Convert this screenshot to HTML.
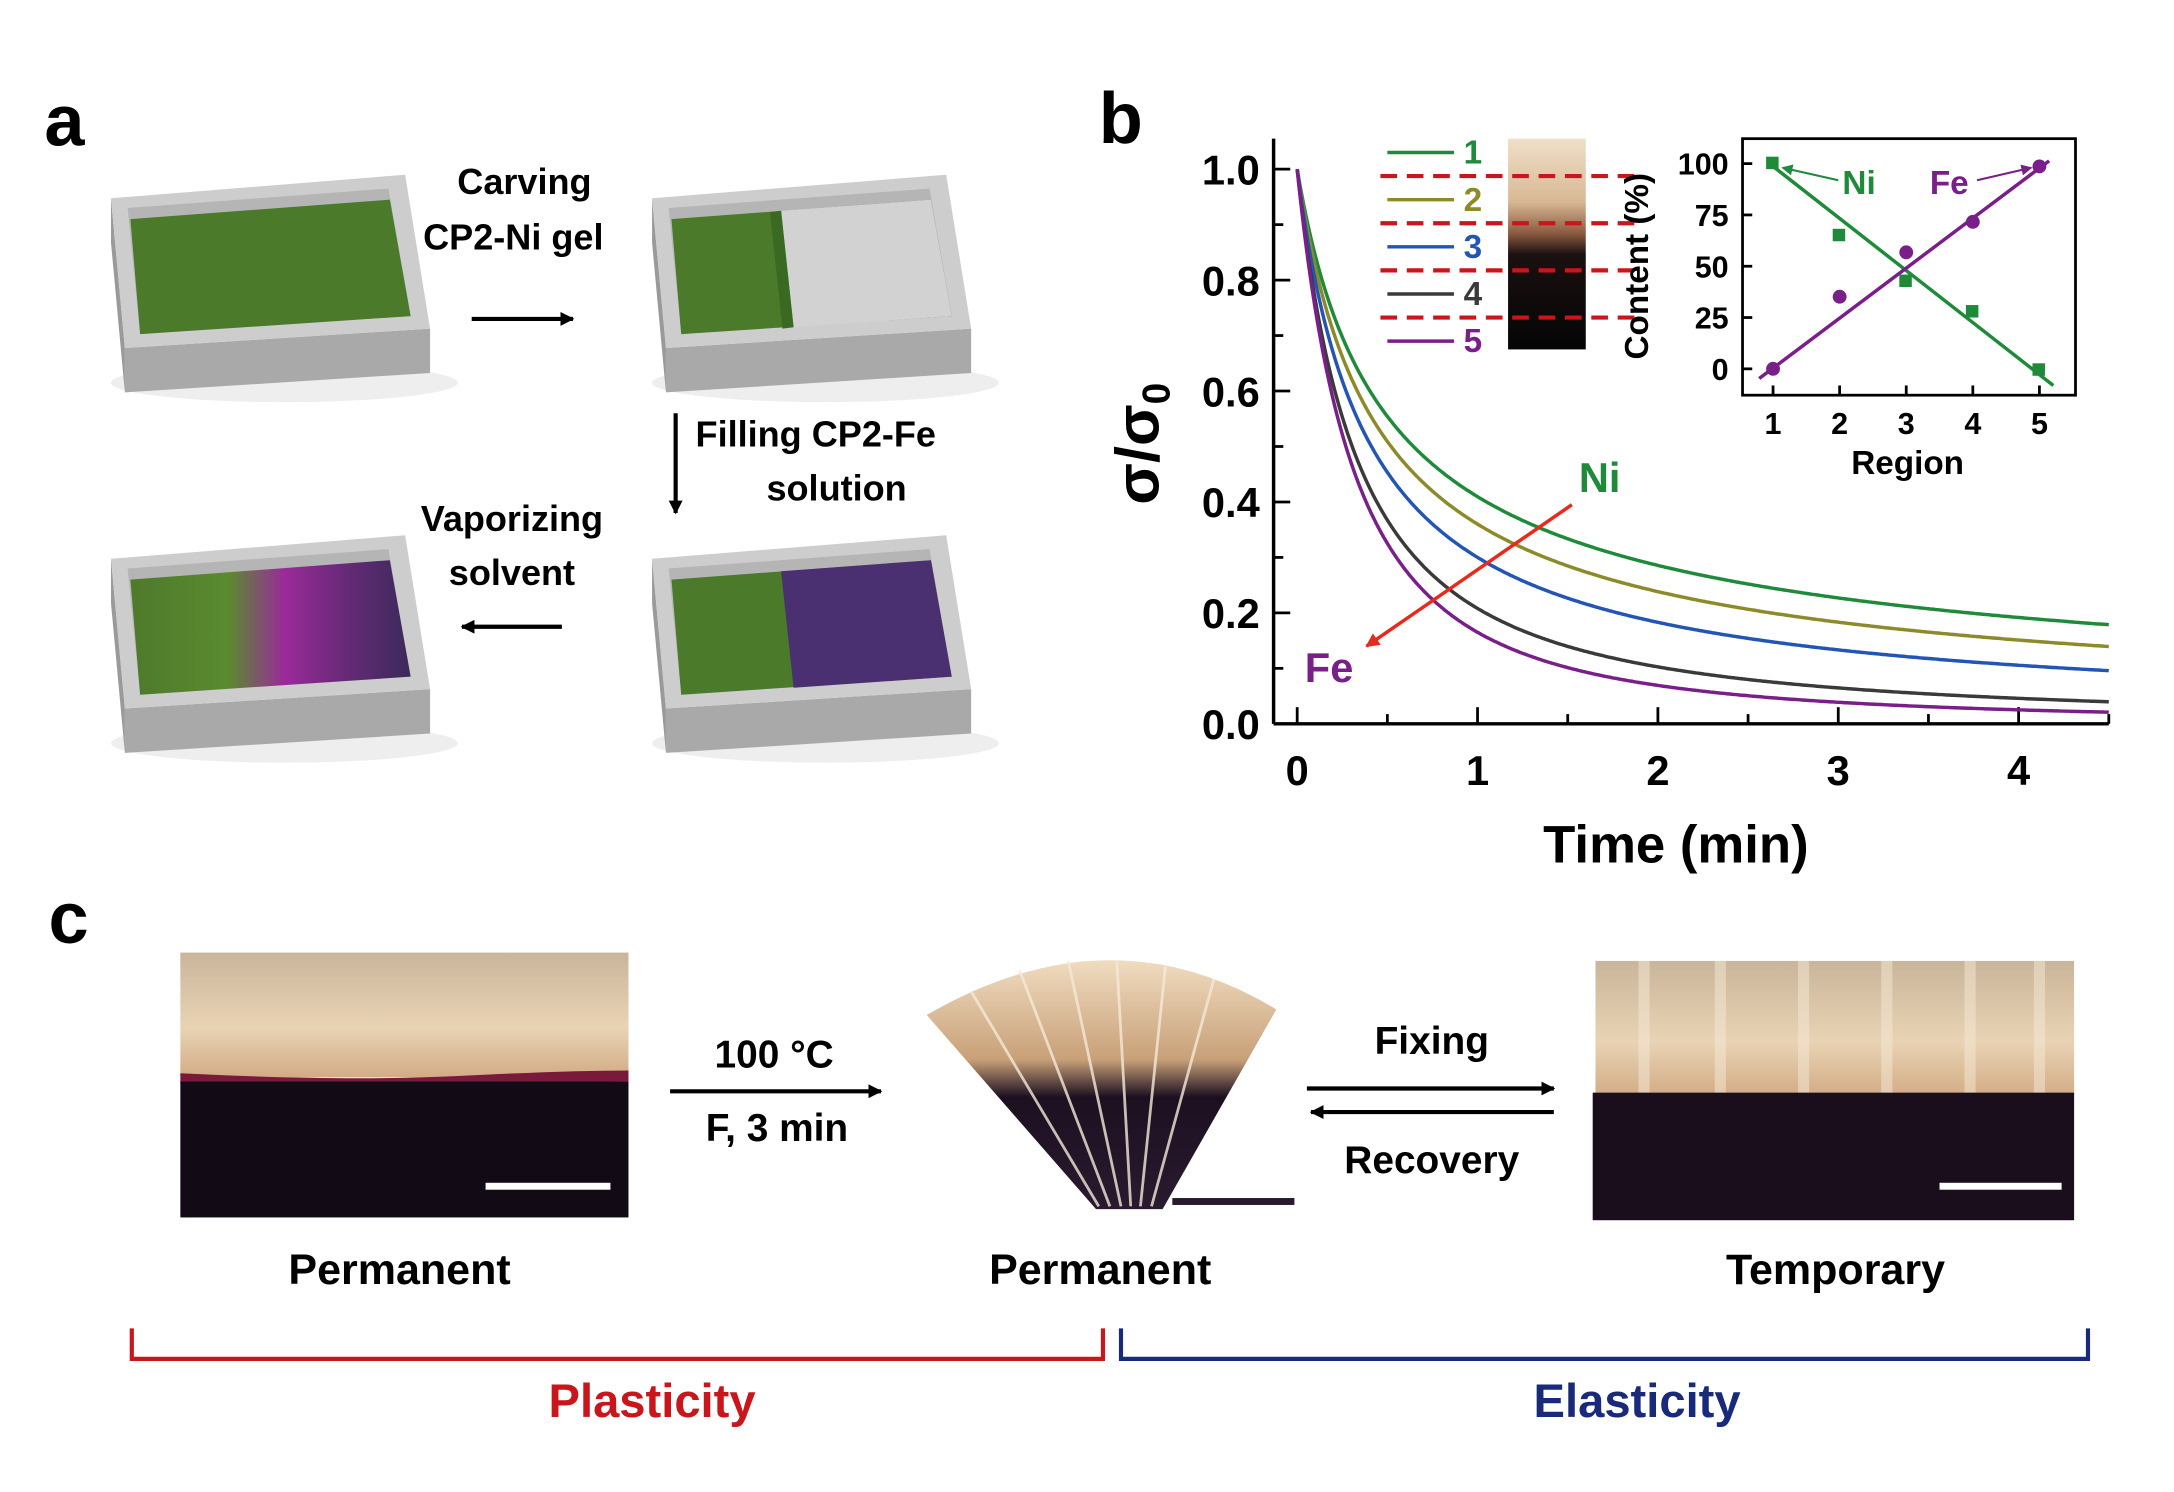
<!DOCTYPE html>
<html><head><meta charset="utf-8"><style>
html,body{margin:0;padding:0;background:#fff;}
svg{display:block;}
text{font-family:"Liberation Sans",Arial,sans-serif;font-weight:bold;}
</style></head><body>
<svg id="s" width="2174" height="1492" viewBox="0 0 1567 1076" preserveAspectRatio="none" xmlns="http://www.w3.org/2000/svg">
<defs>
<linearGradient id="gp" x1="0" x2="1" y1="0" y2="0">
<stop offset="0" stop-color="#4e7a2a"/><stop offset="0.35" stop-color="#5a8a30"/><stop offset="0.55" stop-color="#9a2a9a"/><stop offset="0.75" stop-color="#6a2a7a"/><stop offset="1" stop-color="#3a2a5a"/></linearGradient>
<linearGradient id="strip" x1="0" x2="0" y1="0" y2="1">
<stop offset="0" stop-color="#f0e0c8"/><stop offset="0.3" stop-color="#d8b894"/><stop offset="0.45" stop-color="#8a5a40"/><stop offset="0.55" stop-color="#1a1010"/><stop offset="1" stop-color="#050505"/></linearGradient>
<linearGradient id="cream" x1="0" x2="0" y1="0" y2="1">
<stop offset="0" stop-color="#c9b59a"/><stop offset="0.6" stop-color="#e9d3b4"/><stop offset="1" stop-color="#d2ac86"/></linearGradient>
<linearGradient id="fan" x1="0" x2="0" y1="0" y2="1">
<stop offset="0" stop-color="#f0dcc0"/><stop offset="0.4" stop-color="#c8a078"/><stop offset="0.55" stop-color="#1c1020"/><stop offset="1" stop-color="#2a1a30"/></linearGradient>
<marker id="ah" markerWidth="10" markerHeight="10" refX="9" refY="5" orient="auto" markerUnits="userSpaceOnUse"><path d="M0,0 L10,5 L0,10 Z" fill="#000"/></marker>
<marker id="ahr" markerWidth="10" markerHeight="10" refX="9" refY="5" orient="auto" markerUnits="userSpaceOnUse"><path d="M0,0 L10,5 L0,10 Z" fill="#e8291c"/></marker>
<marker id="ahg" markerWidth="8" markerHeight="8" refX="7" refY="4" orient="auto" markerUnits="userSpaceOnUse"><path d="M0,0 L8,4 L0,8 Z" fill="#1e8a3a"/></marker>
<marker id="ahp" markerWidth="8" markerHeight="8" refX="7" refY="4" orient="auto" markerUnits="userSpaceOnUse"><path d="M0,0 L8,4 L0,8 Z" fill="#7a1f8a"/></marker>
</defs>

<text x="32" y="105" font-size="52">a</text>
<text x="792" y="103" font-size="52">b</text>
<text x="35" y="680" font-size="52">c</text>

<g id="trays"></g>

<text x="378" y="140" font-size="26" text-anchor="middle">Carving</text>
<text x="370" y="180" font-size="26" text-anchor="middle">CP2-Ni gel</text>
<line x1="340" y1="230" x2="413" y2="230" stroke="#000" stroke-width="3" marker-end="url(#ah)"/>
<line x1="487" y1="298" x2="487" y2="370" stroke="#000" stroke-width="3" marker-end="url(#ah)"/>
<text x="588" y="322" font-size="26" text-anchor="middle">Filling CP2-Fe</text>
<text x="603" y="361" font-size="26" text-anchor="middle">solution</text>
<text x="369" y="383" font-size="26" text-anchor="middle">Vaporizing</text>
<text x="369" y="422" font-size="26" text-anchor="middle">solvent</text>
<line x1="405" y1="452" x2="333" y2="452" stroke="#000" stroke-width="3" marker-end="url(#ah)"/>

<g stroke="#000" stroke-width="2.5" fill="none">
<line x1="918" y1="100" x2="918" y2="522"/>
<line x1="918" y1="522" x2="1520" y2="522"/>
</g>
<g id="ticks"></g>
<g font-size="30" text-anchor="end">
<text x="908" y="133">1.0</text><text x="908" y="213">0.8</text><text x="908" y="293">0.6</text><text x="908" y="373">0.4</text><text x="908" y="453">0.2</text><text x="908" y="533">0.0</text>
</g>
<g font-size="30" text-anchor="middle">
<text x="935" y="566">0</text><text x="1065" y="566">1</text><text x="1195" y="566">2</text><text x="1325" y="566">3</text><text x="1455" y="566">4</text>
</g>
<text x="1208" y="622" font-size="38" text-anchor="middle">Time (min)</text>
<text transform="translate(835,320) rotate(-90)" font-size="44" text-anchor="middle">σ/σ<tspan font-size="28" dy="8">0</tspan></text>
<g id="curves" fill="none" stroke-width="2.5"></g>

<text x="1153" y="355" font-size="30" fill="#1e8a3a" text-anchor="middle">Ni</text>
<text x="958" y="492" font-size="30" fill="#7a1f8a" text-anchor="middle">Fe</text>
<line x1="1133" y1="364" x2="985" y2="466" stroke="#e8291c" stroke-width="2.5" marker-end="url(#ahr)"/>

<rect x="1087" y="100" width="56" height="152" fill="url(#strip)"/>
<g stroke-width="2.5">
<line x1="1000" y1="110" x2="1048" y2="110" stroke="#1e8a3a"/>
<line x1="1000" y1="144" x2="1048" y2="144" stroke="#8d8a2a"/>
<line x1="1000" y1="178" x2="1048" y2="178" stroke="#2255b5"/>
<line x1="1000" y1="212" x2="1048" y2="212" stroke="#3a3a3a"/>
<line x1="1000" y1="246" x2="1048" y2="246" stroke="#7a1f8a"/>
</g>
<g stroke="#c8161c" stroke-width="3" stroke-dasharray="12,7">
<line x1="995" y1="127" x2="1178" y2="127"/>
<line x1="995" y1="161" x2="1178" y2="161"/>
<line x1="995" y1="195" x2="1178" y2="195"/>
<line x1="995" y1="229" x2="1178" y2="229"/>
</g>
<g font-size="24">
<text x="1055" y="118" fill="#1e8a3a">1</text>
<text x="1055" y="152" fill="#8d8a2a">2</text>
<text x="1055" y="186" fill="#2255b5">3</text>
<text x="1055" y="220" fill="#3a3a3a">4</text>
<text x="1055" y="254" fill="#7a1f8a">5</text>
</g>

<g stroke="#000" stroke-width="2" fill="none">
<rect x="1256" y="100" width="240" height="185"/>
</g>
<g id="itick"></g>
<g font-size="22" text-anchor="end">
<text x="1246" y="126">100</text><text x="1246" y="163">75</text><text x="1246" y="200">50</text><text x="1246" y="237">25</text><text x="1246" y="274">0</text>
</g>
<g font-size="22" text-anchor="middle">
<text x="1278" y="313">1</text><text x="1326" y="313">2</text><text x="1374" y="313">3</text><text x="1422" y="313">4</text><text x="1470" y="313">5</text>
</g>
<text x="1375" y="342" font-size="24" text-anchor="middle">Region</text>
<text transform="translate(1188,192) rotate(-90)" font-size="24" text-anchor="middle">Content (%)</text>
<line x1="1278" y1="120" x2="1480" y2="278" stroke="#1e8a3a" stroke-width="2.5"/>
<line x1="1268" y1="273" x2="1477" y2="116" stroke="#7a1f8a" stroke-width="2.5"/>
<g fill="#1e8a3a">
<rect x="1273" y="113" width="9" height="9"/><rect x="1321" y="165" width="9" height="9"/><rect x="1369" y="198" width="9" height="9"/><rect x="1417" y="220" width="9" height="9"/><rect x="1465" y="262" width="9" height="9"/>
</g>
<g fill="#7a1f8a">
<circle cx="1278" cy="266" r="5"/><circle cx="1326" cy="214" r="5"/><circle cx="1374" cy="182" r="5"/><circle cx="1422" cy="160" r="5"/><circle cx="1470" cy="120" r="5"/>
</g>
<text x="1340" y="140" font-size="24" fill="#1e8a3a" text-anchor="middle">Ni</text>
<line x1="1325" y1="130" x2="1285" y2="121" stroke="#1e8a3a" stroke-width="1.5" marker-end="url(#ahg)"/>
<text x="1405" y="140" font-size="24" fill="#7a1f8a" text-anchor="middle">Fe</text>
<line x1="1425" y1="130" x2="1464" y2="121" stroke="#7a1f8a" stroke-width="1.5" marker-end="url(#ahp)"/>

<rect x="130" y="687" width="323" height="90" fill="url(#cream)"/>
<path d="M130,774 Q250,780 330,776 T453,772 L453,780 Q330,784 130,782 Z" fill="#7a1a3a"/>
<rect x="130" y="780" width="323" height="98" fill="#120a14"/>
<rect x="350" y="853" width="90" height="5" fill="#fff"/>

<text x="558" y="770" font-size="28" text-anchor="middle">100 °C</text>
<line x1="483" y1="787" x2="635" y2="787" stroke="#000" stroke-width="3" marker-end="url(#ah)"/>
<text x="560" y="823" font-size="28" text-anchor="middle">F, 3 min</text>

<path d="M668,732 Q800,655 920,728 L838,872 L790,872 Z" fill="url(#fan)"/>
<g stroke="#f4ead8" stroke-width="2" opacity="0.8">
<line x1="700" y1="715" x2="792" y2="870"/><line x1="735" y1="700" x2="800" y2="870"/><line x1="770" y1="693" x2="808" y2="870"/><line x1="805" y1="693" x2="815" y2="870"/><line x1="840" y1="697" x2="822" y2="870"/><line x1="875" y1="706" x2="830" y2="870"/>
</g>
<rect x="845" y="864" width="88" height="5" fill="#2a1a30"/>

<text x="1032" y="760" font-size="28" text-anchor="middle">Fixing</text>
<line x1="942" y1="785" x2="1120" y2="785" stroke="#000" stroke-width="3" marker-end="url(#ah)"/>
<line x1="1120" y1="802" x2="945" y2="802" stroke="#000" stroke-width="3" marker-end="url(#ah)"/>
<text x="1032" y="846" font-size="28" text-anchor="middle">Recovery</text>

<rect x="1150" y="693" width="345" height="97" fill="url(#cream)"/>
<g stroke="#f6ead6" stroke-width="8" opacity="0.5">
<line x1="1185" y1="693" x2="1185" y2="790"/><line x1="1240" y1="693" x2="1240" y2="790"/><line x1="1300" y1="693" x2="1300" y2="790"/><line x1="1360" y1="693" x2="1360" y2="790"/><line x1="1420" y1="693" x2="1420" y2="790"/><line x1="1470" y1="693" x2="1470" y2="790"/>
</g>
<rect x="1148" y="788" width="347" height="92" fill="#1a0e1c"/>
<rect x="1398" y="853" width="88" height="5" fill="#fff"/>

<g font-size="31" text-anchor="middle">
<text x="288" y="926">Permanent</text>
<text x="793" y="926">Permanent</text>
<text x="1323" y="926">Temporary</text>
</g>
<path d="M95,958 L95,980 L795,980 L795,958" fill="none" stroke="#c8161c" stroke-width="3"/>
<path d="M808,958 L808,980 L1505,980 L1505,958" fill="none" stroke="#1a2a7a" stroke-width="3"/>
<text x="470" y="1022" font-size="34" fill="#c8161c" text-anchor="middle">Plasticity</text>
<text x="1180" y="1022" font-size="34" fill="#1a2a7a" text-anchor="middle">Elasticity</text>
</svg>
<script>
var NS="http://www.w3.org/2000/svg";
function el(p,tag,a){var e=document.createElementNS(NS,tag);for(var k in a)e.setAttribute(k,a[k]);p.appendChild(e);return e;}
var T=document.getElementById("trays");
function tray(x,y,kind){
 var g=el(T,"g",{transform:"translate("+x+","+y+")"});
 el(g,"ellipse",{cx:125,cy:150,rx:125,ry:14,fill:"#eee"});
 el(g,"path",{d:"M0,17 L10,125 L10,157 L0,49 Z",fill:"#9a9a9a"});
 el(g,"path",{d:"M10,125 L230,111 L230,143 L10,157 Z",fill:"#a9a9a9"});
 el(g,"path",{d:"M0,17 L212,0 L230,111 L10,125 Z",fill:"#cdcdcd"});
 el(g,"path",{d:"M12,24 L200,10 L216,102 L21,115 Z",fill:"#b5b5b5"});
 var f=kind==3?"url(#gp)":"#4a7a2a";
 el(g,"path",{d:"M14,32 L201,18 L216,102 L21,115 Z",fill:f});
 if(kind==1){el(g,"path",{d:"M93,26 L201,18 L216,102 L102,110 Z",fill:"#d2d2d2"});el(g,"path",{d:"M85,27 L93,26 L102,110 L94,111 Z",fill:"#3a6a22"});}
 if(kind==2){el(g,"path",{d:"M93,26 L201,18 L216,102 L102,110 Z",fill:"#4a3070"});}
}
tray(80,126,0);tray(470,126,1);tray(80,386,3);tray(470,386,2);
var tk=document.getElementById("ticks");
for(var i=0;i<=10;i++){var y=522-i*40;el(tk,"line",{x1:918,y1:y,x2:i%2==0?930:925,y2:y,stroke:"#000","stroke-width":2});}
for(var i=0;i<=9;i++){var x=935+i*65;el(tk,"line",{x1:x,y1:522,x2:x,y2:i%2==0?510:515,stroke:"#000","stroke-width":2});}
var it=document.getElementById("itick");
for(var i=0;i<5;i++){el(it,"line",{x1:1256,y1:118+i*37,x2:1263,y2:118+i*37,stroke:"#000","stroke-width":2});el(it,"line",{x1:1278+i*48,y1:285,x2:1278+i*48,y2:278,stroke:"#000","stroke-width":2});}
var C=document.getElementById("curves");
var P=[["#1e8a3a",3,0.644],["#8d8a2a",3,0.737],["#2255b5",2.85,0.893],["#3a3a3a",2.2,1.35],["#7a1f8a",1.8,1.75]];
P.forEach(function(p){var d="";for(var t=0;t<=4.5;t+=0.01){var v=1/Math.pow(1+p[1]*t,p[2]);d+=(t==0?"M":"L")+(935+130*t).toFixed(1)+","+(522-400*v).toFixed(1);}
el(C,"path",{d:d,stroke:p[0]});});
</script>
</body></html>
